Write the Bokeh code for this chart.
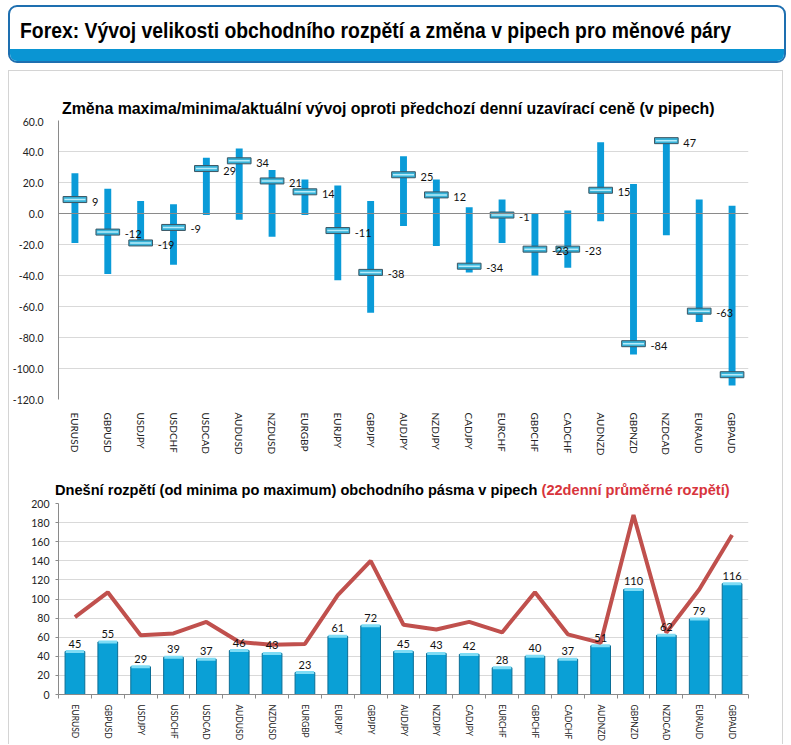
from bokeh.plotting import figure
from bokeh.models import Range1d, FixedTicker, Span, Div, ColumnDataSource, NumeralTickFormatter
from bokeh.layouts import column
from bokeh.embed import file_html
from bokeh.resources import INLINE
from bokeh.core.properties import value

# ---------------- data ----------------
pairs = ["EURUSD", "GBPUSD", "USDJPY", "USDCHF", "USDCAD", "AUDUSD", "NZDUSD",
         "EURGBP", "EURJPY", "GBPJPY", "AUDJPY", "NZDJPY", "CADJPY", "EURCHF",
         "GBPCHF", "CADCHF", "AUDNZD", "GBPNZD", "NZDCAD", "EURAUD", "GBPAUD"]
change_high = [26, 16, 8, 6, 36, 42, 28, 22, 18, 8, 37, 22, 4, 9, 0, 2, 46, 19, 48, 9, 5]
change_low = [-19, -39, -21, -33, -1, -4, -15, -1, -43, -64, -8, -21, -38, -19, -40, -35, -5, -91, -14, -70, -111]
change_now = [9, -12, -19, -9, 29, 34, 21, 14, -11, -38, 25, 12, -34, -1, -23, -23, 15, -84, 47, -63, -104]
range_today = [45, 55, 29, 39, 37, 46, 43, 23, 61, 72, 45, 43, 42, 28, 40, 37, 51, 110, 62, 79, 116]
range_avg22 = [81, 107, 62, 64, 76, 55, 52, 53, 104, 140, 73, 68, 76, 65, 107, 63, 54, 188, 65, 110, 167]
ticks_top = [-120, -100, -80, -60, -40, -20, 0, 20, 40, 60]
ticks_bottom = [0, 20, 40, 60, 80, 100, 120, 140, 160, 180, 200]

title_main = "Forex: Vývoj velikosti obchodního rozpětí a změna v pipech pro měnové páry"
title_top = "Změna maxima/minima/aktuální vývoj oproti předchozí denní uzavírací ceně (v pipech)"
title_bot_a = "Dnešní rozpětí (od minima po maximum) obchodního pásma v pipech"
title_bot_b = "(22denní průměrné rozpětí)"

n = len(pairs)
xc = [i + 0.5 for i in range(n)]
bounds = [float(i) for i in range(n + 1)]
overrides = {c: lab for c, lab in zip(xc, pairs)}

TICK_FONT = "Lato"
TITLE_CSS = "font-family:'Liberation Sans',Arial,sans-serif;font-weight:bold;line-height:18px;white-space:nowrap;"

# ---------------- header ----------------
header = Div(
    text=(
        '<div style="position:relative;width:791px;height:70px;">'
        '<div style="position:absolute;left:8px;top:5px;box-sizing:border-box;width:778px;height:58px;'
        'border:2px solid #1e6fb0;border-radius:9px;overflow:hidden;background:#ffffff;">'
        '<div style="position:absolute;left:0;right:0;bottom:0;height:12px;background:#0a95d3;"></div>'
        '<div style="position:absolute;left:10px;top:11px;font-family:\'Liberation Sans\',Arial,sans-serif;'
        'font-weight:bold;font-size:22px;line-height:26px;color:#000;white-space:nowrap;'
        'transform:scaleX(0.88);transform-origin:left top;">' + title_main + '</div></div></div>'
    ),
    width=791, height=70, margin=0,
)

title1 = Div(
    text=('<div style="position:relative;width:773px;height:46px;">'
          '<div style="position:absolute;left:53px;top:29px;color:#000;font-size:15.9px;' + TITLE_CSS + '">'
          + title_top + '</div></div>'),
    width=773, height=46, margin=0,
)

title2 = Div(
    text=('<div style="position:relative;width:773px;height:29px;">'
          '<div style="position:absolute;left:46px;top:11px;color:#000;font-size:14.6px;' + TITLE_CSS + '">'
          + title_bot_a + ' <span style="color:#d8343c;">' + title_bot_b + '</span></div></div>'),
    width=773, height=29, margin=0,
)

# ---------------- top chart ----------------
src1 = ColumnDataSource(dict(x=xc, hi=change_high, lo=change_low, now=change_now,
                             lab=[str(v) for v in change_now]))
p1 = figure(width=773, height=353, x_range=Range1d(0, n), y_range=Range1d(-120, 60),
            output_backend="svg", toolbar_location=None,
            min_border_left=48, min_border_right=27, min_border_top=3, min_border_bottom=71,
            outline_line_color=None, background_fill_color="white", border_fill_color="white")
p1.vbar(x="x", bottom="lo", top="hi", width=0.21, source=src1,
        fill_color="#0a9bd8", line_color=None)
p1.add_layout(Span(location=0, dimension="width", line_color="#8a8a8a", line_width=1))
p1.rect(x="x", y="now", width=0.72, height=6, height_units="screen", source=src1,
        fill_color="#37b2d8", line_color="#3b5663", line_width=1)
p1.rect(x="x", y="now", width=0.64, height=1.5, height_units="screen", source=src1,
        fill_color="#b8ecfa", line_color=None)
p1.text(x="x", y="now", text="lab", x_offset=17, y_offset=2, text_align="left",
        text_baseline="middle", text_font=value(TICK_FONT), text_font_size="11px",
        text_color="#111111", source=src1)

p1.yaxis.ticker = FixedTicker(ticks=ticks_top)
p1.yaxis.formatter = NumeralTickFormatter(format="0.0")
p1.yaxis.axis_line_color = "#8a8a8a"
p1.yaxis.major_tick_line_color = None
p1.yaxis.minor_tick_line_color = None
p1.yaxis.major_label_standoff = 9
p1.yaxis.major_label_text_font = TICK_FONT
p1.yaxis.major_label_text_font_size = "10.5px"
p1.yaxis.major_label_text_color = "#222222"
p1.ygrid.ticker = FixedTicker(ticks=ticks_top)
p1.ygrid.grid_line_color = "#d9d9d9"
p1.xgrid.grid_line_color = None

p1.xaxis.ticker = FixedTicker(ticks=xc)
p1.xaxis.major_label_overrides = overrides
p1.xaxis.major_label_orientation = "vertical"
p1.xaxis.axis_line_color = None
p1.xaxis.major_tick_line_color = None
p1.xaxis.minor_tick_line_color = None
p1.xaxis.major_label_standoff = 7
p1.xaxis.major_label_text_font = TICK_FONT
p1.xaxis.major_label_text_font_size = "10px"
p1.xaxis.major_label_text_color = "#222222"

# ---------------- bottom chart ----------------
src2 = ColumnDataSource(dict(x=xc, v=range_today, avg=range_avg22,
                             lab=[str(v) for v in range_today]))
p2 = figure(width=773, height=245, x_range=Range1d(0, n), y_range=Range1d(0, 200),
            output_backend="svg", toolbar_location=None,
            min_border_left=44, min_border_right=34, min_border_top=4, min_border_bottom=50,
            outline_line_color=None, background_fill_color="white", border_fill_color="white")
p2.vbar(x="x", top="v", bottom=0, width=0.6, source=src2,
        fill_color="#0aa0d6", line_color="#0b6e96", line_width=1)
p2.rect(x="x", y="v", width=0.56, height=3, height_units="screen", source=src2,
        fill_color="#7fdcf5", line_color=None)
p2.line(x="x", y="avg", source=src2, line_color="#c0504d", line_width=4)
p2.text(x="x", y="v", text="lab", y_offset=-4, text_align="center", text_baseline="bottom",
        text_font=value(TICK_FONT), text_font_size="11px", text_color="#111111", source=src2)

p2.yaxis.ticker = FixedTicker(ticks=ticks_bottom)
p2.yaxis.axis_line_color = "#8a8a8a"
p2.yaxis.major_tick_line_color = "#8a8a8a"
p2.yaxis.major_tick_out = 3
p2.yaxis.major_tick_in = 0
p2.yaxis.minor_tick_line_color = None
p2.yaxis.major_label_standoff = 6
p2.yaxis.major_label_text_font = TICK_FONT
p2.yaxis.major_label_text_font_size = "10.5px"
p2.yaxis.major_label_text_color = "#222222"
p2.ygrid.ticker = FixedTicker(ticks=ticks_bottom)
p2.ygrid.grid_line_color = "#d9d9d9"
p2.xgrid.grid_line_color = None

p2.xaxis.ticker = FixedTicker(ticks=xc, minor_ticks=bounds)
p2.xaxis.major_label_overrides = overrides
p2.xaxis.major_label_orientation = "vertical"
p2.xaxis.axis_line_color = "#8a8a8a"
p2.xaxis.major_tick_line_color = None
p2.xaxis.minor_tick_line_color = "#8a8a8a"
p2.xaxis.minor_tick_out = 4
p2.xaxis.minor_tick_in = 0
p2.xaxis.major_label_standoff = 4
p2.xaxis.major_label_text_font = TICK_FONT
p2.xaxis.major_label_text_font_size = "8.5px"
p2.xaxis.major_label_text_color = "#222222"

panel = column(title1, p1, title2, p2, margin=(0, 0, 0, 8),
               styles={"border-top": "1px solid #d4d4d4",
                       "border-left": "1px solid #d4d4d4",
                       "border-right": "1px solid #d4d4d4"})
layout = column(header, panel)

open("out.html", "w").write(file_html(layout, INLINE))
